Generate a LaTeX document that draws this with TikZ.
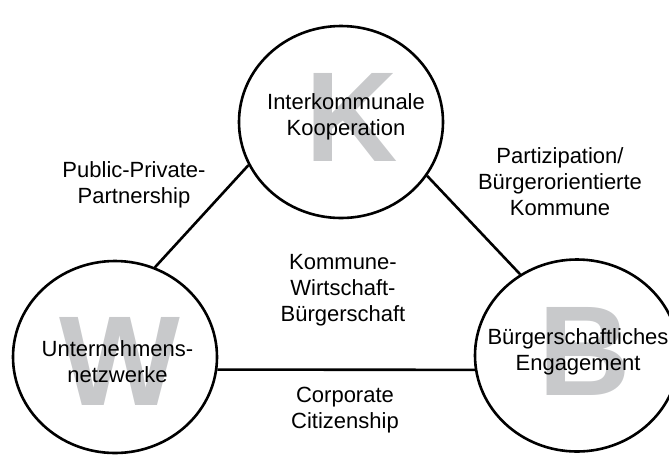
\documentclass[tikz,border=0pt]{standalone}
\usepackage{fontspec}
\setmainfont{Liberation Sans}
\usetikzlibrary{shapes.geometric}
\definecolor{letgray}{RGB}{200,201,203}
\begin{document}
\begin{tikzpicture}[x=1pt,y=-1pt,
  ring/.style={draw, ellipse, line width=2.6pt, minimum width=204pt, minimum height=192pt, inner sep=0pt},
  bigletter/.style={text=letgray, font=\fontsize{128}{128}\selectfont\bfseries, inner sep=0pt},
  lbl/.style={align=center, font=\fontsize{22}{26}\selectfont, inner sep=0pt},
  conn/.style={line width=2.6pt}]
\useasboundingbox (0,0) rectangle (669,456);
% rings
\node[ring] (K) at (341,122) {};
\node[ring] (W) at (115,357) {};
\node[ring] (B) at (577,355.5) {};
% big letters
\node[bigletter] (Kl) at (352,117) {K};
\node[bigletter] (Wl) at (120,361) {W};
\node[bigletter] (Bl) at (585,351) {B};
% circle texts
\node[lbl] (Kt) at (346,117.3) {Interkommunale\\Kooperation};
\node[lbl] (Wt) at (117.5,362) {Unternehmens-\\netzwerke};
\node[lbl] (Bt) at (578,352) {Bürgerschaftliches\\Engagement};
% connectors
\draw[conn] (W.66.6) -- (K.205.8);
\draw[conn] (K.-32.9) -- (B.125.3);
\draw[conn] (W.-7.3) -- (B.188.1);
% edge labels
\node[lbl] (ppp) at (134,185) {Public-Private-\\Partnership};
\node[lbl] (part) at (560,182) {Partizipation/\\Bürgerorientierte\\Kommune};
\node[lbl] (kwb) at (343,290) {Kommune-\\Wirtschaft-\\Bürgerschaft};
\node[lbl] (cc) at (345,410) {Corporate\\Citizenship};
\end{tikzpicture}
\end{document}
